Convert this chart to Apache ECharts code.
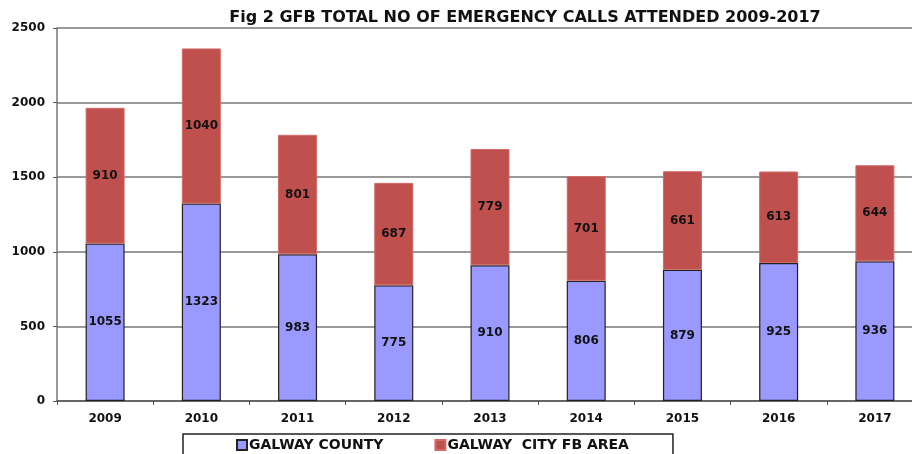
<!DOCTYPE html>
<html>
<head>
<meta charset="utf-8">
<script src="https://cdn.jsdelivr.net/npm/echarts@6/dist/echarts.min.js"></script>
<style>
  html, body { margin: 0; padding: 0; background: #fff; }
  #my_chart { width: 912px; height: 454px; }
</style>
</head>
<body>
<div id="my_chart"></div>
<script>
  var years = ['2009', '2010', '2011', '2012', '2013', '2014', '2015', '2016', '2017'];
  var county = [1055, 1323, 983, 775, 910, 806, 879, 925, 936];
  var city = [910, 1040, 801, 687, 779, 701, 661, 613, 644];

  var font = 'DejaVu Sans, sans-serif';
  var lbl = { show: true, position: 'inside', color: '#111', fontWeight: 'bold', fontSize: 12, fontFamily: font };

  var chart = echarts.init(document.getElementById('my_chart'));
  chart.setOption({
    animation: false,
    title: {
      text: 'Fig 2 GFB TOTAL NO OF EMERGENCY CALLS ATTENDED 2009-2017',
      left: 520, top: 5, textAlign: 'center',
      textStyle: { fontSize: 16, fontWeight: 'bold', color: '#111', fontFamily: font }
    },
    grid: { left: 57, width: 866, top: 28, bottom: 53, outerBoundsMode: 'none' },
    legend: {
      data: ['GALWAY COUNTY', 'GALWAY  CITY FB AREA'],
      icon: 'rect',
      left: 183, top: 434,
      padding: [4, 44, 12, 53],
      itemGap: 51,
      itemWidth: 10, itemHeight: 10,
      borderColor: '#222', borderWidth: 1.5,
      textStyle: { fontSize: 14, fontWeight: 'bold', color: '#111', fontFamily: font, padding: [0, 0, 0, -3] }
    },
    xAxis: {
      type: 'category',
      data: years,
      axisLine: { lineStyle: { color: '#555', width: 1.5 } },
      axisTick: { show: true, length: 4, lineStyle: { color: '#555' } },
      axisLabel: { color: '#111', fontWeight: 'bold', fontSize: 12, fontFamily: font, margin: 12 }
    },
    yAxis: {
      type: 'value',
      min: 0, max: 2500, interval: 500,
      axisLine: { show: true, lineStyle: { color: '#777', width: 1.5 } },
      axisTick: { show: true, length: 4, lineStyle: { color: '#555' } },
      splitLine: { lineStyle: { color: '#777', width: 1.5 } },
      axisLabel: {
        color: '#111', fontWeight: 'bold', fontSize: 12, fontFamily: font, margin: 12,
        formatter: function (v) { return String(v); }
      }
    },
    series: [{
      name: 'GALWAY COUNTY',
      type: 'bar',
      stack: 'calls',
      barWidth: 39,
      data: county,
      itemStyle: { color: '#9999ff', borderColor: '#222', borderWidth: 1.2 },
      label: lbl
    }, {
      name: 'GALWAY  CITY FB AREA',
      type: 'bar',
      stack: 'calls',
      barWidth: 39,
      data: city,
      itemStyle: { color: '#c0504d', borderColor: '#d06a67', borderWidth: 1 },
      label: lbl
    }]
  });
</script>
</body>
</html>
